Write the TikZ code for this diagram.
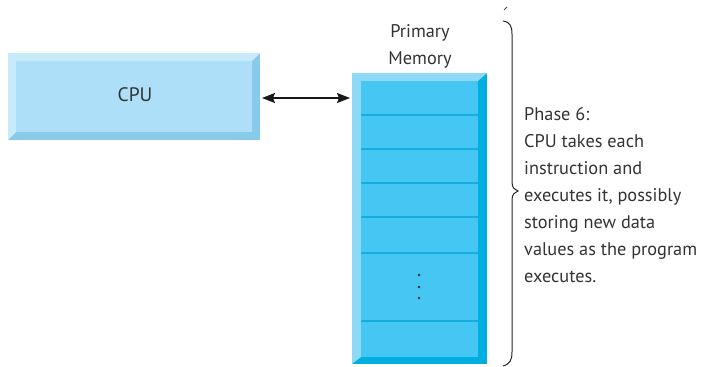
\documentclass[tikz,border=0pt]{standalone}
\usepackage{fontspec}
\setmainfont{PT Sans}
\usetikzlibrary{arrows.meta}
\definecolor{cpuface}{HTML}{ADDFF8}
\definecolor{cpulight}{HTML}{C8EBFA}
\definecolor{cpudark}{HTML}{88CAEA}
\definecolor{memface}{HTML}{46C6F2}
\definecolor{memlight}{HTML}{8DD9F6}
\definecolor{memdark}{HTML}{00AEDF}
\definecolor{memline}{HTML}{14AEE0}
\definecolor{txt}{HTML}{333333}
\tikzset{
  lbl/.style={font=\fontsize{18.3}{27}\selectfont, text=txt, inner sep=0pt},
  rowline/.style={draw=memline, line width=1.5pt},
  conn/.style={line width=1.2pt, draw=black!90, {Stealth[length=13pt,width=10pt,inset=2pt]}-{Stealth[length=13pt,width=10pt,inset=2pt]}},
}
\begin{document}
\begin{tikzpicture}[x=1pt,y=-1pt]
\useasboundingbox (0,0) rectangle (702,367);
% CPU box with bevel
\fill[cpudark] (8,53) rectangle (260,140);
\fill[cpulight] (8,53) -- (260,53) -- (252,61) -- (16,61) -- (16,132) -- (8,140) -- cycle;
\fill[cpuface] (16,61) rectangle (252,132);
\node[lbl, font=\fontsize{19.5}{20}\selectfont, anchor=base] (cpu) at (135,101) {CPU};
\coordinate (cpuE) at (262,98);
% Memory box with bevel
\fill[memdark] (352,73) rectangle (487,364);
\fill[memlight] (352,73) -- (487,73) -- (478,81) -- (361,81) -- (361,357) -- (352,364) -- cycle;
\fill[memface] (361,81) rectangle (478,357);
\foreach \y in {115,149,183,217,253,321}
  \draw[rowline] (361,\y) -- (478,\y);
\foreach \y in {275,287,298}
  \fill[black!80] (419,\y) circle (1.4);
\coordinate (memW) at (350,98);
\node[lbl, anchor=base] (memlbl1) at (420,37) {Primary};
\node[lbl, anchor=base] (memlbl2) at (420,64) {Memory};
% connector
\draw[conn] (cpuE) -- (memW);
% brace
\draw[line width=1pt, black!85] (503,21) .. controls (510,22) and (512,26) .. (512,34) -- (512,182)
  .. controls (512,188) and (515,190) .. (518,191) .. controls (515,192) and (512,194) .. (512,200)
  -- (512,352) .. controls (512,360) and (510,364) .. (503,366);
\draw[line width=0.8pt, black!70] (504,10) -- (507,7);
% description
\node[lbl, align=left, anchor=base west] (desc) at (524,282) {Phase 6:\\CPU takes each\\instruction and\\executes it, possibly\\storing new data\\values as the program\\executes.};
\end{tikzpicture}
\end{document}
